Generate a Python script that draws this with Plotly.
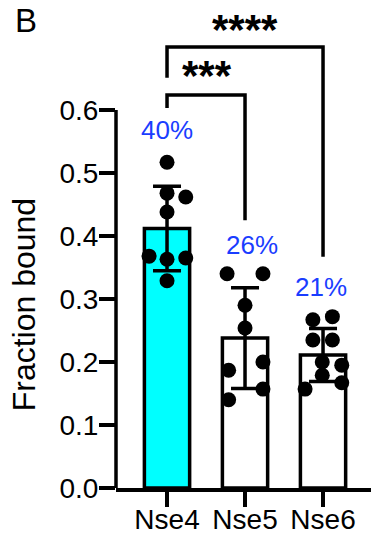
import plotly.graph_objects as go

# ---- data -------------------------------------------------------------
groups = ["Nse4", "Nse5", "Nse6"]
bar_mean = [0.412, 0.238, 0.211]
bar_sd = [0.067, 0.080, 0.042]
bar_colors = ["#00ffff", "#ffffff", "#ffffff"]
pct_labels = ["40%", "26%", "21%"]

# individual replicates per group
nse4_pts = [0.517, 0.468, 0.462, 0.438, 0.368, 0.363, 0.365, 0.329]
nse5_pts = [0.340, 0.340, 0.290, 0.254, 0.187, 0.200, 0.157, 0.140]
nse6_pts = [0.267, 0.272, 0.235, 0.235, 0.200, 0.195, 0.179, 0.167, 0.157]

# horizontal scatter of each dot within its bar (category units)
nse4_dx = [0.0, 0.0, 0.24, 0.0, -0.23, 0.0, 0.24, 0.0]
nse5_dx = [-0.23, 0.23, 0.0, 0.0, -0.21, 0.23, 0.23, -0.21]
nse6_dx = [-0.13, 0.12, -0.13, 0.12, -0.01, 0.24, -0.01, 0.24, -0.23]

yticks = [0.0, 0.1, 0.2, 0.3, 0.4, 0.5, 0.6]

# significance comparisons: (from, to, left-leg bottom, right-leg bottom, top, label)
comparisons = [
    (0, 1, 0.603, 0.425, 0.624, "***"),
    (0, 2, 0.651, 0.367, 0.700, "****"),
]

LW = 3.5
FONT = "Liberation Sans, Arial, Helvetica, sans-serif"

fig = go.Figure()

fig.add_trace(go.Bar(
    x=[0, 1, 2], y=bar_mean, width=0.58,
    marker=dict(color=bar_colors, line=dict(color="black", width=LW)),
    error_y=dict(type="data", array=bar_sd, visible=True,
                 color="black", thickness=LW, width=14),
    hoverinfo="skip",
))

for i, (pts, dx) in enumerate([(nse4_pts, nse4_dx), (nse5_pts, nse5_dx), (nse6_pts, nse6_dx)]):
    fig.add_trace(go.Scatter(
        x=[i + d for d in dx], y=pts, mode="markers",
        marker=dict(color="black", size=15, line=dict(width=0)),
        cliponaxis=False, hoverinfo="skip",
    ))

# y axis line only spans the tick range
fig.add_shape(type="line", xref="paper", yref="y", x0=0, x1=0, y0=0, y1=0.6,
              line=dict(color="black", width=LW))

# significance brackets with their star labels
star_pos = [(0.51, 0.655), (1.0, 0.727)]
for (a, b, yl, yr, top, lab), (sx, sy) in zip(comparisons, star_pos):
    fig.add_trace(go.Scatter(
        x=[a, a, b, b], y=[yl, top, top, yr], mode="lines",
        line=dict(color="black", width=LW), cliponaxis=False, hoverinfo="skip",
    ))
    fig.add_annotation(x=sx, y=sy, xref="x", yref="y", text=f"<b>{lab}</b>",
                       showarrow=False,
                       font=dict(family=FONT, size=42, color="black"))

# percentage labels above each bar
pct_pos = [(0.0, 0.568), (1.09, 0.386), (1.97, 0.319)]
for lab, (px, py) in zip(pct_labels, pct_pos):
    fig.add_annotation(x=px, y=py, xref="x", yref="y", text=lab, showarrow=False,
                       font=dict(family=FONT, size=26, color="#1a3dff"))

# y axis title
fig.add_annotation(x=0, y=0.29, xref="paper", yref="y", xshift=-92,
                   xanchor="center", yanchor="middle",
                   text="Fraction bound", textangle=-90, showarrow=False,
                   font=dict(family=FONT, size=32, color="black"))

# panel letter
fig.add_annotation(x=-0.404, y=1.0, xref="paper", yref="paper",
                   xanchor="left", yanchor="top",
                   text="B", showarrow=False,
                   font=dict(family=FONT, size=33, color="black"))

fig.update_layout(
    width=371, height=535,
    margin=dict(l=116, r=0, t=0, b=47, autoexpand=False),
    paper_bgcolor="white", plot_bgcolor="white",
    showlegend=False,
    font=dict(family=FONT, size=28, color="black"),
    xaxis=dict(
        range=[-0.654, 2.615], tickvals=[0, 1, 2], ticktext=groups,
        showline=True, linecolor="black", linewidth=LW,
        ticks="outside", ticklen=15, tickwidth=LW, tickcolor="black",
        ticklabelstandoff=-11,
        showgrid=False, zeroline=False, fixedrange=True, automargin=False,
        tickfont=dict(family=FONT, size=28),
    ),
    yaxis=dict(
        range=[0, 0.7746], tickvals=yticks, ticktext=[f"{v:.1f}" for v in yticks],
        showline=False, ticks="outside", ticklen=16, tickwidth=LW, tickcolor="black",
        ticklabelstandoff=-5,
        showgrid=False, zeroline=False, fixedrange=True, automargin=False,
        tickfont=dict(family=FONT, size=28),
    ),
)

fig.write_html("out.html")
